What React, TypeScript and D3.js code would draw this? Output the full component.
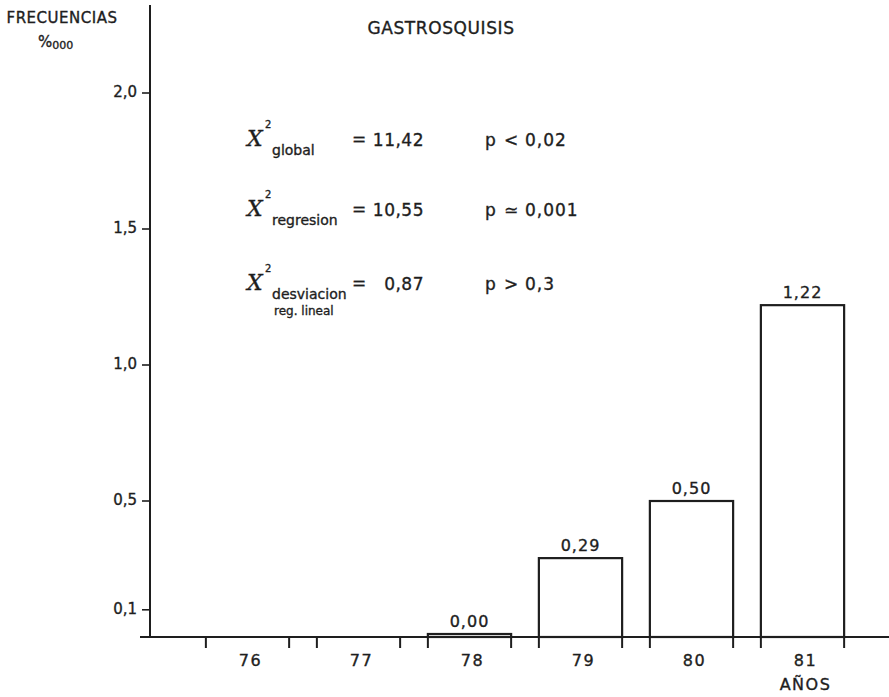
import React from "react";
import { scaleBand, scaleLinear } from "d3";

const years = ["76", "77", "78", "79", "80", "81"];
const frequencies: (number | null)[] = [null, null, 0.0, 0.29, 0.5, 1.22];
const yTicks = [0.1, 0.5, 1.0, 1.5, 2.0];

const statNames = ["global", "regresion", "desviacion"];
const statExtra = ["", "", "reg. lineal"];
const statValues = ["11,42", "10,55", "0,87"];
const pSymbols = ["<", "\u2243", ">"];
const pNumbers = ["0,02", "0,001", "0,3"];

const font = "'DejaVu Sans', 'Liberation Sans', sans-serif";
const ink = "#1e1e1e";

const comma = (v: number, d: number) => v.toFixed(d).replace(".", ",");

export const App = () => {
  const width = 889;
  const height = 697;
  const axisX = 150;
  const baseY = 637;

  const xScale = scaleBand<string>()
    .domain(years)
    .range([192, 858])
    .paddingInner(0.25)
    .paddingOuter(0.125);

  const yScale = scaleLinear().domain([0, 2]).range([baseY, 93]);

  // baselines of the three statistic rows
  const rowY = [146, 216, 290];

  // slight stroke on text so it reads as heavy as the printed original
  const txt = { stroke: ink, strokeWidth: 0.35 };

  return (
    <svg
      width={width}
      height={height}
      style={{ position: "absolute", left: 0, top: 0, background: "#fff" }}
      fontFamily={font}
      fill={ink}
    >
      {/* axis titles */}
      <text x={62} y={23} textAnchor="middle" fontSize={15} letterSpacing={0.5} {...txt}>
        FRECUENCIAS
      </text>
      <text x={38} y={47} fontSize={15} {...txt}>
        %<tspan fontSize={11} dy={2}>000</tspan>
      </text>
      <text x={441} y={34} textAnchor="middle" fontSize={17} letterSpacing={0.6} {...txt}>
        GASTROSQUISIS
      </text>

      {/* y axis */}
      <line x1={axisX} x2={axisX} y1={5} y2={baseY} stroke={ink} strokeWidth={2} />
      {yTicks.map((t) => (
        <g key={t}>
          <line x1={axisX - 8} x2={axisX} y1={yScale(t)} y2={yScale(t)} stroke={ink} strokeWidth={1.6} />
          <text x={axisX - 13} y={yScale(t) + 4} textAnchor="end" fontSize={15} {...txt}>
            {comma(t, 1)}
          </text>
        </g>
      ))}

      {/* x axis */}
      <line x1={140} x2={width} y1={baseY} y2={baseY} stroke={ink} strokeWidth={2} />
      {years.map((yr) => {
        const x0 = xScale(yr)!;
        const x1 = x0 + xScale.bandwidth();
        return (
          <g key={yr}>
            <line x1={x0} x2={x0} y1={baseY} y2={baseY + 11} stroke={ink} strokeWidth={2} />
            <line x1={x1} x2={x1} y1={baseY} y2={baseY + 11} stroke={ink} strokeWidth={2} />
            <text x={(x0 + x1) / 2 + 3} y={666} textAnchor="middle" fontSize={16} letterSpacing={1.5} {...txt}>
              {yr}
            </text>
          </g>
        );
      })}
      <text
        x={xScale("81")! + xScale.bandwidth() / 2 + 3}
        y={690}
        textAnchor="middle"
        fontSize={16}
        letterSpacing={1.5}
        {...txt}
      >
        AÑOS
      </text>

      {/* bars */}
      {years.map((yr, i) => {
        const v = frequencies[i];
        if (v === null) return null;
        const top = Math.min(yScale(v), baseY - 3);
        const x0 = xScale(yr)!;
        return (
          <g key={"b" + yr}>
            <rect
              x={x0}
              y={top}
              width={xScale.bandwidth()}
              height={baseY - top}
              fill="none"
              stroke={ink}
              strokeWidth={2.2}
            />
            <text
              x={x0 + xScale.bandwidth() / 2}
              y={top - 7}
              textAnchor="middle"
              fontSize={16}
              letterSpacing={1}
              {...txt}
            >
              {comma(v, 2)}
            </text>
          </g>
        );
      })}

      {/* chi-square statistics */}
      {statNames.map((name, i) => (
        <g key={name} {...txt}>
          <text x={247} y={rowY[i]} fontSize={22} fontStyle="italic" fontFamily="'DejaVu Serif', serif">
            X
          </text>
          <text x={265} y={rowY[i] - 18} fontSize={10}>
            2
          </text>
          <text x={272} y={rowY[i] + 9} fontSize={14}>
            {name}
          </text>
          {statExtra[i] && (
            <text x={274} y={rowY[i] + 25} fontSize={12}>
              {statExtra[i]}
            </text>
          )}
          <text x={352} y={rowY[i] - 1} fontSize={17}>
            =
          </text>
          <text x={424} y={rowY[i]} textAnchor="end" fontSize={17} letterSpacing={0.5}>
            {statValues[i]}
          </text>
          <text x={485} y={rowY[i]} fontSize={17}>
            p
          </text>
          <text x={504} y={rowY[i]} fontSize={17}>
            {pSymbols[i]}
          </text>
          <text x={525} y={rowY[i]} fontSize={17} letterSpacing={1}>
            {pNumbers[i]}
          </text>
        </g>
      ))}
    </svg>
  );
};

export default App;
